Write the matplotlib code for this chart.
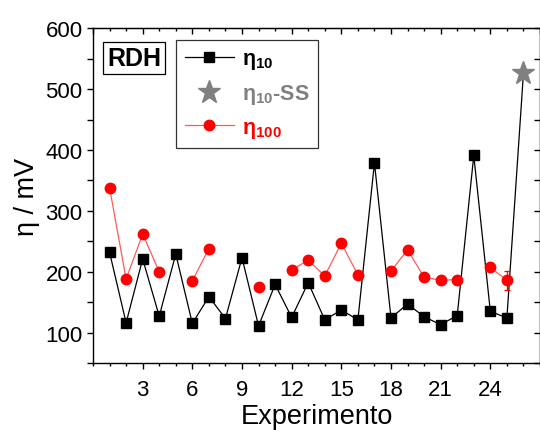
import numpy as np
import matplotlib
matplotlib.use("Agg")
import matplotlib.pyplot as plt
from matplotlib.lines import Line2D
from matplotlib.ticker import MultipleLocator

plt.rcParams['font.family'] = ['Liberation Sans', 'DejaVu Sans']
plt.rcParams['mathtext.fontset'] = 'custom'
plt.rcParams['mathtext.rm'] = 'Liberation Sans'
plt.rcParams['mathtext.bf'] = 'Liberation Sans:bold'
plt.rcParams['mathtext.default'] = 'bf'

# --------------------------
# data
# --------------------------
experiment = np.arange(1, 27)
eta10 = [232, 116, 221, 127, 229, 115, 159, 123, 223, 111, 179, 125, 182,
         121, 137, 121, 379, 124, 147, 126, 113, 128, 391, 135, 124, 526]
eta100 = [338, 188, 262, 200, np.nan, 185, 238, np.nan, np.nan, 175, np.nan,
          203, 219, 193, 247, 195, np.nan, 201, 236, 191, 186, 187, np.nan,
          207, 186, np.nan]
eta100_err = [0] * 24 + [16, 0]

eta10 = np.array(eta10, dtype=float)
eta100 = np.array(eta100, dtype=float)

# --------------------------
# figure
# --------------------------
fig = plt.figure(figsize=(5.4, 4.31), dpi=100)
ax = fig.add_axes([93 / 540, 67 / 431, 447 / 540, 334.7 / 431])

ax.plot(experiment, eta10, color='black', lw=0.9, zorder=2)
ax.plot(experiment[:-1], eta10[:-1], 's', color='black', ms=7.3, zorder=3)
ax.plot(experiment[-1:], eta10[-1:], '*', color='#808080', ms=17, zorder=3)

ax.plot(experiment, eta100, color='#ff5a5a', lw=0.9, zorder=2)
ax.plot(experiment, eta100, 'o', color='red', ms=7.5, zorder=3)
i = 24
ax.errorbar(experiment[i], eta100[i], yerr=eta100_err[i], color='red',
            lw=0.9, capsize=2.5, capthick=0.9, fmt='none', zorder=2)

ax.set_xlim(0, 27)
ax.set_ylim(50, 600)
ax.xaxis.set_major_locator(MultipleLocator(3))
ax.xaxis.set_minor_locator(MultipleLocator(1))
ax.yaxis.set_major_locator(MultipleLocator(100))
ax.yaxis.set_minor_locator(MultipleLocator(50))
ax.set_xticks([3, 6, 9, 12, 15, 18, 21, 24])
ax.tick_params(which='both', direction='out', labelsize=16, width=1.0)
ax.tick_params(which='major', length=4.5, pad=3)
ax.tick_params(axis='x', which='major', pad=7)
ax.tick_params(axis='x', which='minor', length=2.5)
ax.tick_params(axis='y', which='minor', length=4.5)
for s in ax.spines.values():
    s.set_linewidth(1.0)

# mirrored ticks pointing inward on top and right
top = ax.secondary_xaxis('top')
top.xaxis.set_major_locator(MultipleLocator(3))
top.xaxis.set_minor_locator(MultipleLocator(1))
top.tick_params(which='both', direction='in', labeltop=False, width=1.0)
top.tick_params(which='major', length=4.5)
top.tick_params(which='minor', length=2.5)
right = ax.secondary_yaxis('right')
right.yaxis.set_major_locator(MultipleLocator(50))
right.tick_params(which='both', direction='in', labelright=False, width=1.0, length=4.5)

ax.set_xlabel('Experimento', fontsize=19.5, labelpad=2)
ax.set_ylabel('η / mV', fontsize=19.5, labelpad=4)

# RDH tag
ax.text(0.0917, 0.912, 'RDH', transform=ax.transAxes, fontsize=18,
        fontweight='bold', ha='center', va='center',
        bbox=dict(boxstyle='square,pad=0.17', fc='white', ec='black', lw=0.9))

handles = [
    Line2D([], [], color='black', lw=0.9, marker='s', ms=7.3),
    Line2D([], [], color='#808080', lw=0, marker='*', ms=17),
    Line2D([], [], color='#ff5a5a', lw=0.9, marker='o', ms=7.5, mfc='red', mec='red'),
]
labels = ['η$_{10}$', 'η$_{10}$-SS', 'η$_{100}$']
leg = ax.legend(handles, labels, loc='upper left', bbox_to_anchor=(0.1857, 0.966),
                frameon=True, fancybox=False, edgecolor='black',
                prop={'weight': 'bold', 'size': 15.5}, handlelength=2.3,
                handletextpad=0.35, labelspacing=0.5, borderpad=0.4,
                borderaxespad=0)
leg.get_frame().set_linewidth(0.9)
for t, c in zip(leg.get_texts(), ['black', '#808080', 'red']):
    t.set_color(c)

fig.savefig('out.png', dpi=100)
